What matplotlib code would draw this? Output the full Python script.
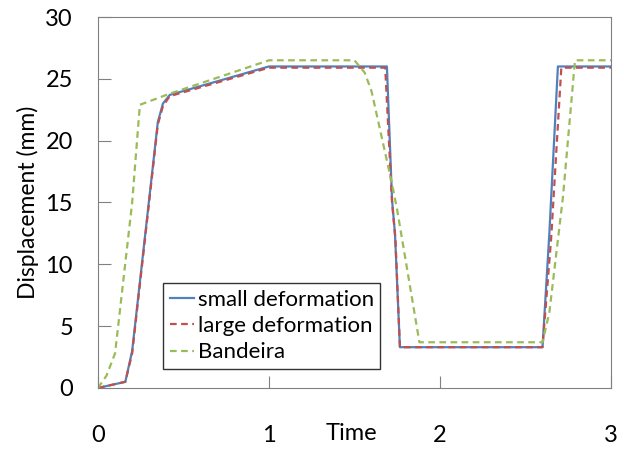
import matplotlib
matplotlib.use("Agg")
import matplotlib.pyplot as plt

plt.rcParams['font.family'] = ['Lato', 'DejaVu Sans']

# small deformation (blue, solid)
t_small = [0, 0.16, 0.2, 0.35, 0.38, 0.42, 1.0, 1.69, 1.72, 1.737, 1.766, 2.60, 2.64, 2.69, 3.0]
d_small = [0, 0.5, 3.0, 21.5, 23.0, 23.7, 26.0, 26.0, 15.2, 12.5, 3.3, 3.3, 12.5, 26.0, 26.0]

# large deformation (red, dashed)
t_large = [0, 0.16, 0.2, 0.35, 0.38, 0.42, 1.0, 1.68, 1.72, 1.74, 1.766, 2.60, 2.65, 2.71, 3.0]
d_large = [0, 0.5, 2.8, 21.3, 22.8, 23.6, 25.9, 25.9, 15.0, 12.0, 3.3, 3.3, 12.0, 25.9, 25.9]

# Bandeira (green, dashed)
t_band = [0, 0.05, 0.1, 0.2, 0.245, 0.42, 1.0, 1.5, 1.56, 1.6, 1.72, 1.75, 1.88, 2.60, 2.64, 2.72, 2.79, 3.0]
d_band = [0, 1.0, 2.8, 15.0, 22.9, 23.8, 26.5, 26.5, 25.5, 24.0, 16.5, 14.4, 3.7, 3.7, 6.1, 15.5, 26.5, 26.5]

fig = plt.figure(figsize=(6.24, 4.51), dpi=100)
ax = fig.add_axes([0.157, 0.1397, 0.822, 0.8226])

ax.plot(t_small, d_small, color='#4F81BD', lw=1.6, label='small deformation')
ax.plot(t_large, d_large, color='#C0504D', lw=1.6, ls=(0, (3, 2)), label='large deformation')
ax.plot(t_band, d_band, color='#9BBB59', lw=1.6, ls=(0, (3, 2)), label='Bandeira')

ax.set_xlim(0, 3)
ax.set_ylim(0, 30)
ax.set_xticks([0, 1, 2, 3])
ax.set_yticks([0, 5, 10, 15, 20, 25, 30])
for s in ax.spines.values():
    s.set_color('#808080')
ax.tick_params(axis='x', direction='in', length=9, color='#808080', labelsize=17, pad=27)
ax.tick_params(axis='y', direction='in', length=9, color='#808080', labelsize=17, pad=18)

ax.set_ylabel('Displacement (mm)', fontsize=16.5)
ax.yaxis.set_label_coords(-0.115, 0.5)
ax.set_xlabel('Time', fontsize=17)
ax.xaxis.set_label_coords((352 - 98) / 513, -0.095)

leg = ax.legend(loc='lower left', bbox_to_anchor=(0.127, 0.051), borderaxespad=0,
                fancybox=False, edgecolor='black', fontsize=16, handlelength=1.1,
                handletextpad=0.15, borderpad=0.3, labelspacing=0.28)
leg.get_frame().set_linewidth(1.0)

fig.savefig('out.png', dpi=100)
